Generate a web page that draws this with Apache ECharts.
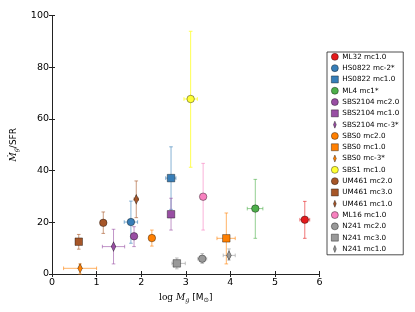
<!DOCTYPE html>
<html><head><meta charset="utf-8">
<script src="https://cdn.jsdelivr.net/npm/echarts@6/dist/echarts.min.js"></script>
<style>html,body{margin:0;padding:0;background:#fff}#c{width:415px;height:312px}</style>
</head><body><div id="c"></div>
<script>
const names = ['ML32 mc1.0','HS0822 mc-2*','HS0822 mc1.0','ML4 mc1*','SBS2104 mc2.0','SBS2104 mc1.0','SBS2104 mc-3*','SBS0 mc2.0','SBS0 mc1.0','SBS0 mc-3*','SBS1 mc1.0','UM461 mc2.0','UM461 mc3.0','UM461 mc1.0','ML16 mc1.0','N241 mc2.0','N241 mc3.0','N241 mc1.0'];
const logMg  = [5.67, 1.77, 2.67, 4.56, 1.84, 2.67, 1.38, 2.24, 3.91, 0.63, 3.11, 1.15, 0.60, 1.89, 3.39, 3.37, 2.80, 3.97];
const ratio  = [21.0, 20.1, 37.1, 25.3, 14.6, 23.1, 10.6, 13.9, 13.8, 2.2, 67.7, 19.8, 12.5, 28.9, 29.9, 5.9, 4.1, 7.2];
const xLow   = [5.56, 1.62, 2.55, 4.38, 1.80, 2.64, 1.13, 2.20, 3.70, 0.26, 2.96, 1.12, 0.57, 1.84, 3.35, 3.27, 2.69, 3.84];
const xHigh  = [5.78, 1.92, 2.78, 4.73, 1.88, 2.70, 1.63, 2.28, 4.11, 1.00, 3.26, 1.18, 0.63, 1.94, 3.43, 3.47, 2.99, 4.11];
const yLow   = [13.8, 11.9, 25.0, 13.8, 10.6, 17.0, 3.9, 10.8, 3.9, 0.0, 41.3, 15.7, 9.6, 21.8, 17.0, 4.1, 2.0, 5.4];
const yHigh  = [28.1, 28.2, 49.2, 36.6, 18.3, 29.3, 17.3, 17.0, 23.6, 3.9, 93.9, 24.0, 15.3, 36.0, 42.8, 7.9, 6.2, 9.7];
const colors = ['#e41a1c','#377eb8','#377eb8','#4daf4a','#984ea3','#984ea3','#984ea3','#ff7f00','#ff7f00','#ff7f00','#ffff33','#a65628','#a65628','#a65628','#f781bf','#999999','#999999','#999999'];
const markers = ['circle','circle','rect','circle','circle','rect','diamond','circle','rect','diamond','circle','circle','rect','diamond','circle','circle','rect','diamond'];
const xTicks = [0,1,2,3,4,5,6];
const yTicks = [0,20,40,60,80,100];

const DIAMOND = 'path://M20,0L40,50L20,100L0,50Z';
function hexA(h,a){const n=parseInt(h.slice(1),16);return `rgba(${n>>16},${(n>>8)&255},${n&255},${a})`;}

const series = [];
names.forEach((nm,i)=>{
  const ecol = hexA(colors[i], colors[i]==='#ffff33'?0.85:0.6);
  series.push({
    type:'custom', silent:true, z:2+i*2,
    itemStyle:{color:colors[i]},
    data:[[logMg[i], ratio[i], xLow[i], xHigh[i], yLow[i], yHigh[i]]],
    renderItem:(params, api)=>{
      const c = api.coord([api.value(0), api.value(1)]);
      const l = api.coord([api.value(2), api.value(1)]);
      const r = api.coord([api.value(3), api.value(1)]);
      const b = api.coord([api.value(0), api.value(4)]);
      const t = api.coord([api.value(0), api.value(5)]);
      const st = {stroke: ecol, lineWidth:1};
      const cap = 1.8;
      const ch = [];
      ch.push({type:'line', shape:{x1:c[0],y1:b[1],x2:c[0],y2:t[1]}, style:st});
      ch.push({type:'line', shape:{x1:c[0]-cap,y1:b[1],x2:c[0]+cap,y2:b[1]}, style:st});
      ch.push({type:'line', shape:{x1:c[0]-cap,y1:t[1],x2:c[0]+cap,y2:t[1]}, style:st});
      ch.push({type:'line', shape:{x1:l[0],y1:c[1],x2:r[0],y2:c[1]}, style:st});
      ch.push({type:'line', shape:{x1:l[0],y1:c[1]-cap,x2:l[0],y2:c[1]+cap}, style:st});
      ch.push({type:'line', shape:{x1:r[0],y1:c[1]-cap,x2:r[0],y2:c[1]+cap}, style:st});
      return {type:'group', children:ch};
    }
  });
  const isD = markers[i]==='diamond';
  series.push({
    type:'scatter', name:nm, z:3+i*2,
    symbol: isD ? DIAMOND : markers[i],
    symbolSize: isD ? [4.6,9.5] : 7.5,
    symbolKeepAspect: false,
    itemStyle:{color:colors[i], borderColor:'rgba(0,0,0,0.55)', borderWidth:0.7, opacity:1},
    emphasis:{disabled:true},
    data:[[logMg[i], ratio[i]]]
  });
});

const tickFont = {fontFamily:'DejaVu Sans', fontSize:9.5, color:'#000'};
const axLine = {lineStyle:{color:'#222', width:1}};
const chart = echarts.init(document.getElementById('c'), null, {renderer:'canvas'});
chart.setOption({
  animation:false,
  backgroundColor:'#fff',
  grid:{left:52, right:95.5, top:15.5, bottom:38, containLabel:false},
  xAxis:[{
    type:'value', min:0, max:6, interval:1, position:'bottom',
    axisLine:{show:true, ...axLine}, axisTick:{show:true, inside:true, length:3, lineStyle:{color:'#222'}},
    splitLine:{show:false},
    axisLabel:{...tickFont, margin:4, formatter:v=>xTicks.includes(v)?String(v):''},
    name:'{s|log }{i|M}{sub|g}{t| [M}{sun|⊙}{t|]}', nameLocation:'middle', nameGap:16,
    nameTextStyle:{rich:{
      s:{fontFamily:'DejaVu Serif', fontSize:9, color:'#000'},
      i:{fontFamily:'DejaVu Serif', fontStyle:'italic', fontSize:9, color:'#000'},
      sub:{fontFamily:'DejaVu Serif', fontStyle:'italic', fontSize:6.5, color:'#000', padding:[5,0,0,0]},
      t:{fontFamily:'DejaVu Sans', fontSize:9, color:'#000'},
      sun:{fontFamily:'DejaVu Sans', fontSize:6.5, color:'#000', padding:[5,0,0,0]}
    }}
  },{
    type:'value', min:0, max:6, interval:1, position:'top',
    axisLine:{show:true, ...axLine}, axisTick:{show:true, inside:true, length:3, lineStyle:{color:'#222'}},
    axisLabel:{show:false}, splitLine:{show:false}
  }],
  yAxis:[{
    type:'value', min:0, max:100, interval:20, position:'left',
    axisLine:{show:true, ...axLine}, axisTick:{show:true, inside:true, length:3, lineStyle:{color:'#222'}},
    splitLine:{show:false},
    axisLabel:{...tickFont, margin:3, formatter:v=>yTicks.includes(v)?String(v):''},
    name:'{i|Ṁ}{sub|g}{t|/SFR}', nameLocation:'middle', nameRotate:90, nameGap:28,
    nameTextStyle:{rich:{
      i:{fontFamily:'DejaVu Serif', fontStyle:'italic', fontSize:9, color:'#000'},
      sub:{fontFamily:'DejaVu Serif', fontStyle:'italic', fontSize:6.5, color:'#000', padding:[5,0,0,0]},
      t:{fontFamily:'DejaVu Sans', fontSize:9, color:'#000'}
    }}
  },{
    type:'value', min:0, max:100, interval:20, position:'right',
    axisLine:{show:true, ...axLine}, axisTick:{show:true, inside:true, length:3, lineStyle:{color:'#222'}},
    axisLabel:{show:false}, splitLine:{show:false}
  }],
  legend:{
    orient:'vertical', left:327, top:52, width:76,
    padding:[1,4,2,4], itemGap:3.6, itemWidth:7, itemHeight:7,
    backgroundColor:'#fff', borderColor:'#222', borderWidth:0.8,
    textStyle:{fontFamily:'DejaVu Sans', fontSize:7.2, color:'#000', padding:[0,0,0,-1]},
    selectedMode:false,
    data: names.map((nm,i)=>({
      name:nm,
      icon: markers[i]==='diamond'?DIAMOND:markers[i],
      itemStyle:{color:colors[i], borderColor:'rgba(0,0,0,0.55)', borderWidth:0.7}
    }))
  },
  series
});
</script></body></html>
